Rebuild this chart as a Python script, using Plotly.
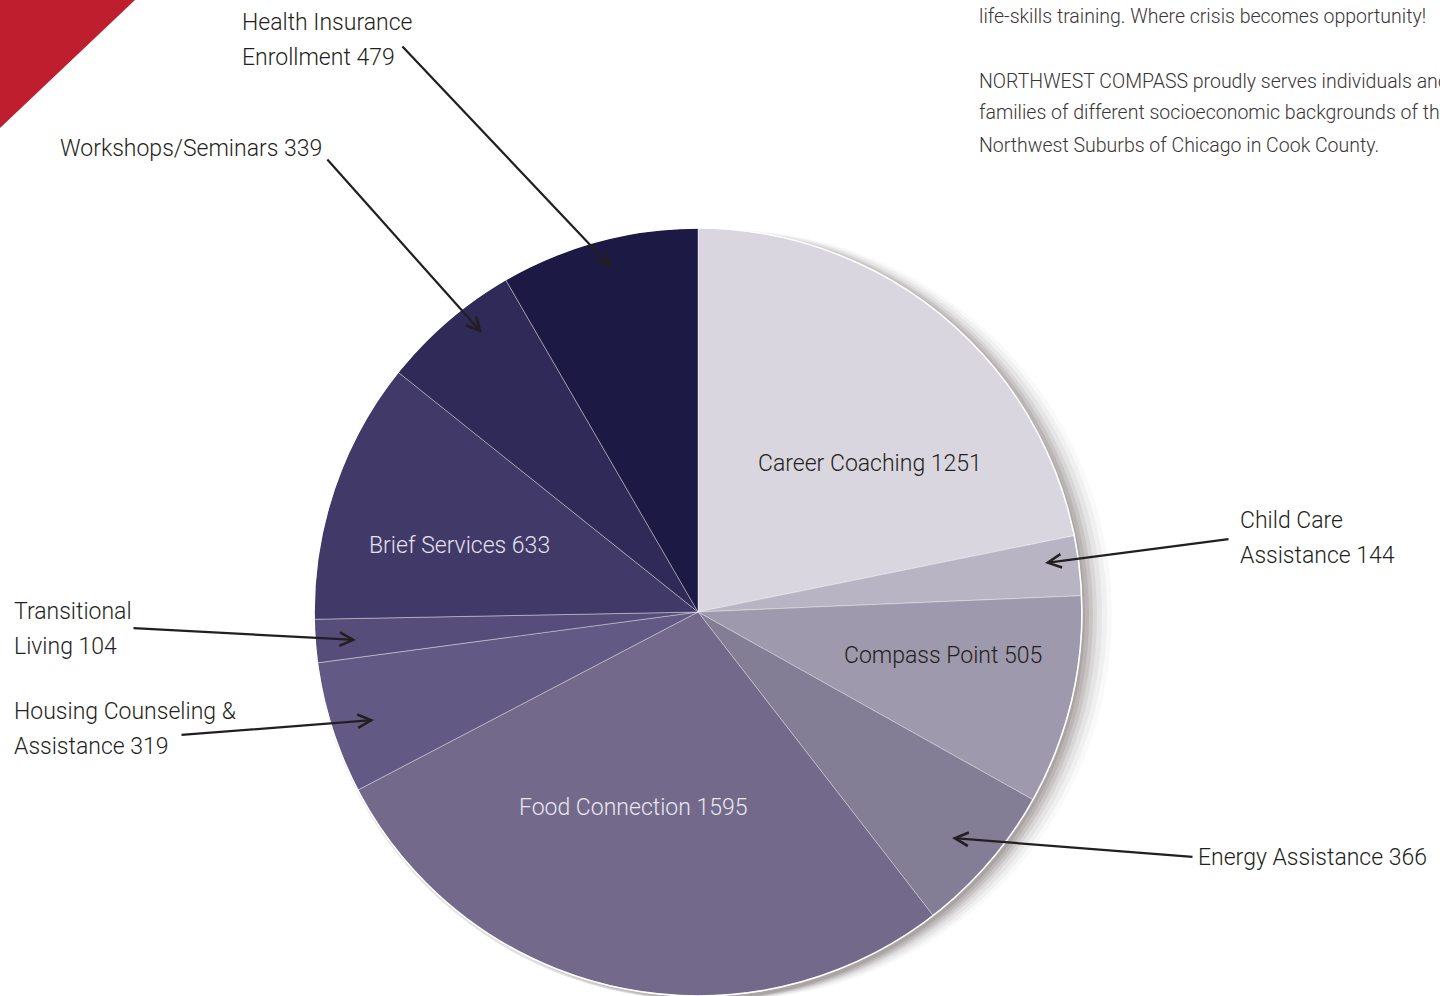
import plotly.graph_objects as go

W, H = 1440, 996

categories = ["Career Coaching", "Child Care Assistance", "Compass Point", "Energy Assistance",
              "Food Connection", "Housing Counseling & Assistance", "Transitional Living",
              "Brief Services", "Workshops/Seminars", "Health Insurance Enrollment"]
values = [1251, 144, 505, 366, 1595, 319, 104, 633, 339, 479]
colors = ["#d9d6df", "#b8b4c3", "#9e99ac", "#847d96", "#736a8b", "#625a85",
          "#564d7b", "#413968", "#2f2a58", "#1c1944"]

FONT = "Roboto, sans-serif"

def px(x):
    return x / W

def py(y):
    return 1 - y / H

fig = go.Figure()

# pie geometry (pixels)
cx, cy, r = 698, 612, 384

fig.add_trace(go.Pie(
    labels=categories, values=values, sort=False, direction="clockwise", rotation=0,
    marker=dict(colors=colors, line=dict(color="rgba(255,255,255,0.55)", width=0.7)),
    textinfo="none", hoverinfo="label+value", showlegend=False,
    domain=dict(x=[px(cx - r), px(cx + r)], y=[0, py(cy - r)]),
))

shapes = []
# red corner triangle
shapes.append(dict(type="path", xref="paper", yref="paper",
                   path=f"M 0 1 L {px(135)} 1 L 0 {py(128)} Z",
                   fillcolor="#bf1e2e", line=dict(width=0), layer="above"))
# soft shadow to the right of the pie
for dx, op in [(30, 0.04), (25, 0.06), (20, 0.08), (15, 0.11), (11, 0.14), (7, 0.17), (3, 0.2)]:
    shapes.append(dict(type="circle", xref="paper", yref="paper",
                       x0=px(cx - r + dx - 3), x1=px(cx + r + dx),
                       y0=py(cy + r + 4), y1=py(cy - r + 2),
                       fillcolor=f"rgba(110,100,100,{op})", line=dict(width=0), layer="below"))
# white rim around the pie
shapes.append(dict(type="circle", xref="paper", yref="paper",
                   x0=px(cx - r), x1=px(cx + r), y0=py(cy + r), y1=py(cy - r),
                   fillcolor="rgba(0,0,0,0)", line=dict(color="white", width=1.6), layer="above"))

annotations = []

def text(x, y, s, size=23, color="#231f20", xanchor="left"):
    annotations.append(dict(x=px(x), y=py(y), xref="paper", yref="paper", text=s,
                            showarrow=False, xanchor=xanchor, yanchor="middle", align="left",
                            font=dict(family=FONT, size=size, color=color, weight=300)))

def arrow(x0, y0, x1, y1):
    annotations.append(dict(x=px(x1), y=py(y1), xref="paper", yref="paper", text="",
                            showarrow=True, ax=x0 - x1, ay=y0 - y1, axref="pixel", ayref="pixel",
                            arrowhead=5, arrowsize=1.2, arrowwidth=2.2, arrowcolor="#231f20",
                            standoff=0, startstandoff=0))

# inside labels
text(870, 463, "Career Coaching 1251", color="#231f20", xanchor="center")
text(943, 655, "Compass Point 505", color="#231f20", xanchor="center")
text(633, 807, "Food Connection 1595", color="#e8e6ee", xanchor="center")
text(460, 545, "Brief Services 633", color="#e4e1ec", xanchor="center")

# outside labels
text(240, 22, "Health Insurance")
text(240, 57, "Enrollment 479")
arrow(401, 45, 612, 268)
text(58, 149, "Workshops/Seminars 339")
arrow(326, 158, 482, 333)
text(1238, 520, "Child Care")
text(1238, 555, "Assistance 144")
arrow(1230, 539, 1045, 563)
text(12, 611, "Transitional")
text(12, 646, "Living 104")
arrow(132, 628, 356, 640)
text(12, 711, "Housing Counseling &")
text(12, 746, "Assistance 319")
arrow(180, 735, 374, 720)
text(1196, 857, "Energy Assistance 366")
arrow(1194, 857, 952, 838)

# top-right paragraph
para = [
    (17, "life-skills training. Where crisis becomes opportunity!"),
    (81, "NORTHWEST COMPASS proudly serves individuals and"),
    (113, "families of different socioeconomic backgrounds of the"),
    (145, "Northwest Suburbs of Chicago in Cook County."),
]
for yy, s in para:
    text(977, yy, s, size=19.5, color="#3a3536")

fig.update_layout(
    width=W, height=H, margin=dict(l=0, r=0, t=0, b=0),
    paper_bgcolor="white", plot_bgcolor="white",
    shapes=shapes, annotations=annotations, showlegend=False,
)

fig.write_html("out.html", config={"displayModeBar": False},
               post_script="document.body.style.margin='0';document.body.style.overflow='hidden';")
